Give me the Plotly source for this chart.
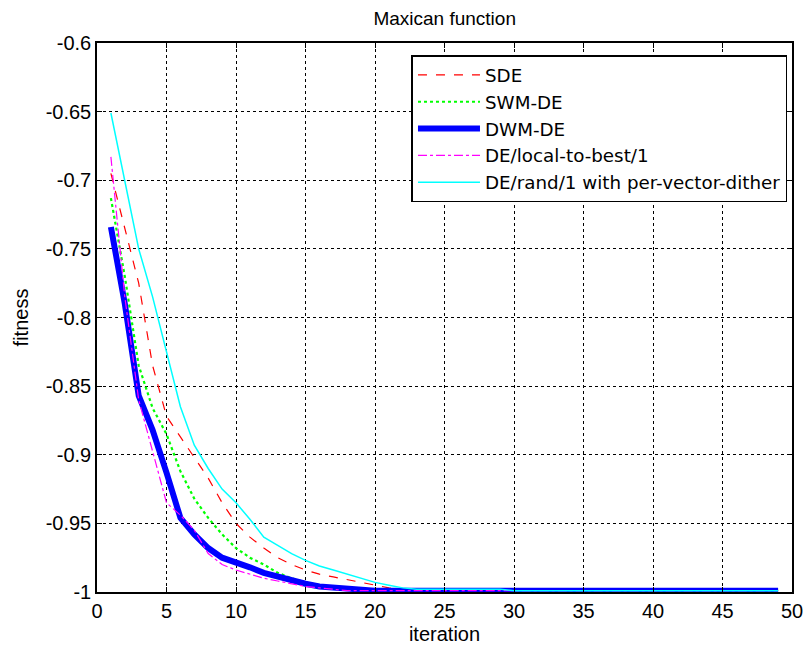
import plotly.graph_objects as go

iterations = list(range(1, 50))

sde = [-0.695, -0.735, -0.775, -0.835, -0.872, -0.887, -0.902, -0.917, -0.935, -0.950,
       -0.960, -0.968, -0.975, -0.980, -0.984, -0.987, -0.989, -0.991, -0.993, -0.995,
       -0.997, -0.998] + [-0.999] * 27
swm_de = [-0.713, -0.770, -0.835, -0.866, -0.885, -0.912, -0.932, -0.946, -0.958, -0.968,
          -0.975, -0.980, -0.986, -0.990, -0.993, -0.995, -0.997, -0.998] + [-0.999] * 31
dwm_de = [-0.734, -0.790, -0.857, -0.882, -0.913, -0.946, -0.958, -0.968, -0.975, -0.978,
          -0.982, -0.986, -0.989, -0.992, -0.994, -0.996, -0.997, -0.998] + [-0.999] * 31
local_to_best = [-0.683, -0.785, -0.860, -0.898, -0.935, -0.944, -0.955, -0.972, -0.980, -0.984,
                 -0.987, -0.990, -0.992, -0.994, -0.996, -0.997, -0.998] + [-0.999] * 32
rand_dither = [-0.651, -0.700, -0.750, -0.785, -0.825, -0.865, -0.893, -0.910, -0.925, -0.935,
               -0.947, -0.960, -0.966, -0.972, -0.977, -0.981, -0.984, -0.987, -0.990, -0.993,
               -0.995, -0.997, -0.998] + [-0.998] * 6 + [-0.999] * 20

series_names = ["SDE", "SWM-DE", "DWM-DE", "DE/local-to-best/1", "DE/rand/1 with per-vector-dither"]
series_values = [sde, swm_de, dwm_de, local_to_best, rand_dither]
colors = ["#FF0000", "#00FF00", "#0000FF", "#FF00FF", "#00FFFF"]
dashes = ["dash", "dot", "solid", "dashdot", "solid"]
widths = [1.2, 2.2, 6, 1.2, 1.5]

x_ticks = [0, 5, 10, 15, 20, 25, 30, 35, 40, 45, 50]
y_ticks = [-1, -0.95, -0.9, -0.85, -0.8, -0.75, -0.7, -0.65, -0.6]

SANS = "Liberation Sans, Arial, sans-serif"

fig = go.Figure()
for name, vals, c, d, w in zip(series_names, series_values, colors, dashes, widths):
    fig.add_trace(go.Scatter(x=iterations, y=vals, mode="lines", name=name,
                             line=dict(color=c, dash=d, width=w)))

axis_common = dict(
    showline=True, linecolor="black", linewidth=1.5, mirror="ticks",
    ticks="inside", ticklen=5, tickcolor="black",
    showgrid=True, gridcolor="black", gridwidth=1, griddash="dot",
    zeroline=False, automargin=False,
    tickfont=dict(family=SANS, size=20, color="black"),
)

fig.update_layout(
    width=806, height=653,
    paper_bgcolor="white", plot_bgcolor="white",
    margin=dict(l=97, r=14, t=43, b=61),
    title=dict(text="Maxican function", x=0.5517, xanchor="center", y=0.972, yanchor="middle",
               font=dict(family=SANS, size=19, color="black")),
    xaxis=dict(range=[0, 50], tickvals=x_ticks, ticktext=[str(v) for v in x_ticks],
               title=dict(text="iteration", standoff=6,
                          font=dict(family=SANS, size=20, color="black")),
               **axis_common),
    yaxis=dict(range=[-1, -0.6], tickvals=y_ticks, ticktext=[f"{v:g}" for v in y_ticks],
               title=dict(text="fitness", standoff=12,
                          font=dict(family=SANS, size=20, color="black")),
               **axis_common),
    legend=dict(x=0.9935, y=0.978, xanchor="right", yanchor="top",
                bgcolor="white", bordercolor="black", borderwidth=1.5,
                font=dict(family="DejaVu Sans, sans-serif", size=18.3, color="black"),
                itemwidth=62, tracegroupgap=0),
    showlegend=True,
)

fig.write_html("out.html")
